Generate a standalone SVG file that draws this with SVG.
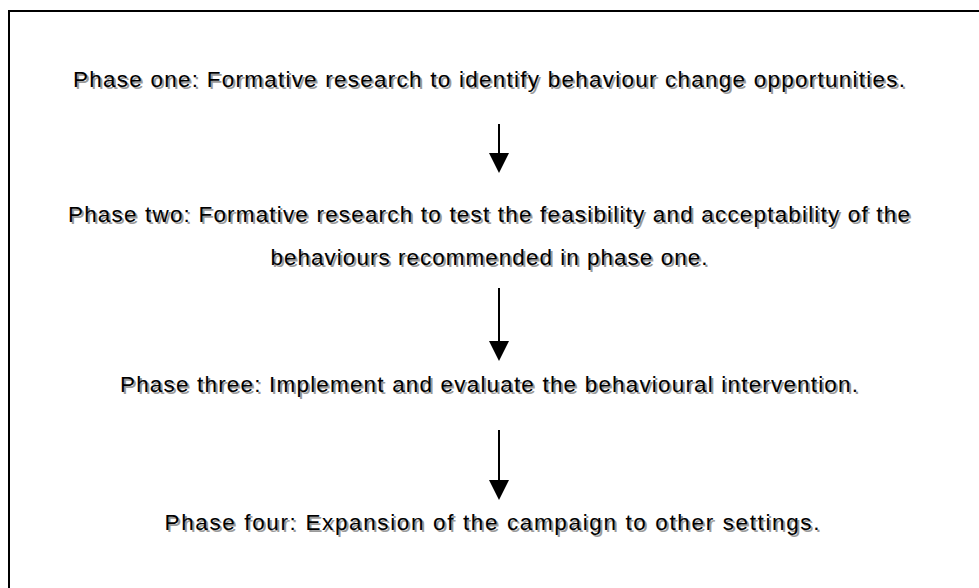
<svg xmlns="http://www.w3.org/2000/svg" xmlns:xlink="http://www.w3.org/1999/xlink" width="979" height="588" viewBox="0 0 979 588">
  <style>
    .t { font-family: "Liberation Sans", Arial, sans-serif; font-size: 22.5px; text-anchor: middle; }
    .sh { fill: #9a9a9a; }
    .fg { fill: #000; }
    .conn line { stroke: #000; stroke-width: 2; }
  </style>
  <defs>
    <marker id="arrow" viewBox="0 0 20 20" refX="0" refY="10" markerWidth="20" markerHeight="20" markerUnits="userSpaceOnUse" orient="auto">
      <path d="M0,0 L20,10 L0,20 Z" fill="#000"/>
    </marker>
    <text id="l1" class="t" x="489" y="87" textLength="832" lengthAdjust="spacing">Phase one: Formative research to identify behaviour change opportunities.</text>
    <text id="l2" class="t" x="489" y="222" textLength="842" lengthAdjust="spacing">Phase two: Formative research to test the feasibility and acceptability of the</text>
    <text id="l3" class="t" x="489" y="265" textLength="437" lengthAdjust="spacing">behaviours recommended in phase one.</text>
    <text id="l4" class="t" x="489" y="392" textLength="738" lengthAdjust="spacing">Phase three: Implement and evaluate the behavioural intervention.</text>
    <text id="l5" class="t" x="492" y="530" textLength="655" lengthAdjust="spacing">Phase four: Expansion of the campaign to other settings.</text>
  </defs>

  <rect width="979" height="588" fill="#fff"/>
  <!-- outer frame, running past the right and bottom edges -->
  <rect x="9" y="11" width="1000" height="600" fill="none" stroke="#000" stroke-width="2"/>

  <g id="connectors" class="conn">
    <line x1="499" y1="124" x2="499" y2="153" marker-end="url(#arrow)"/>
    <line x1="499" y1="288" x2="499" y2="341" marker-end="url(#arrow)"/>
    <line x1="499" y1="430" x2="499" y2="480" marker-end="url(#arrow)"/>
  </g>

  <g id="phase1">
    <use xlink:href="#l1" class="sh" x="2" y="2"/>
    <use xlink:href="#l1" class="fg"/>
  </g>
  <g id="phase2">
    <use xlink:href="#l2" class="sh" x="2" y="2"/>
    <use xlink:href="#l2" class="fg"/>
    <use xlink:href="#l3" class="sh" x="2" y="2"/>
    <use xlink:href="#l3" class="fg"/>
  </g>
  <g id="phase3">
    <use xlink:href="#l4" class="sh" x="2" y="2"/>
    <use xlink:href="#l4" class="fg"/>
  </g>
  <g id="phase4">
    <use xlink:href="#l5" class="sh" x="2" y="2"/>
    <use xlink:href="#l5" class="fg"/>
  </g>
</svg>
